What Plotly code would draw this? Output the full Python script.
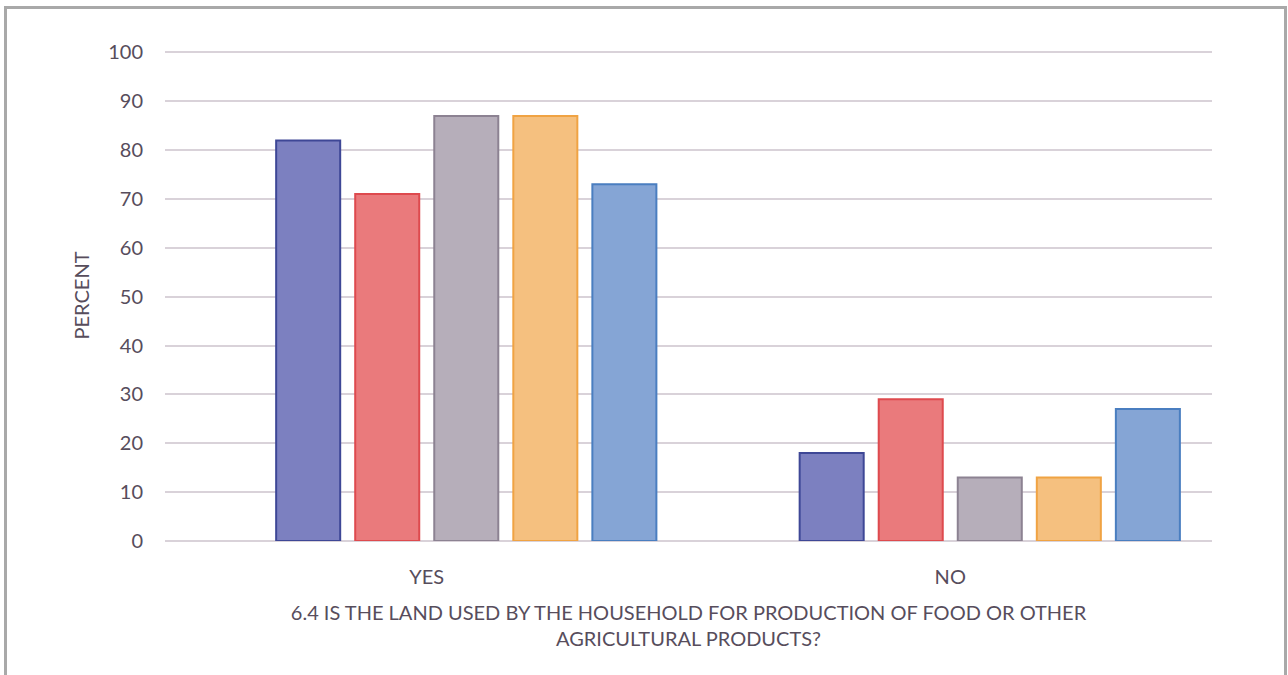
import plotly.graph_objects as go

# Survey answers to question 6.4, in percent of households
categories = ["YES", "NO"]
series_names = ["Group A", "Group B", "Group C", "Group D", "Group E"]
series_values = [
    [82, 18],
    [71, 29],
    [87, 13],
    [87, 13],
    [73, 27],
]
fill_colors = ["#7C80C0", "#EA7A7C", "#B6AEBA", "#F5C07F", "#85A5D5"]
line_colors = ["#3E4796", "#DE4A4E", "#8C8292", "#F0A343", "#4A7EC0"]

y_ticks = list(range(0, 101, 10))
x_title = ("6.4 IS THE LAND USED BY THE HOUSEHOLD FOR PRODUCTION OF FOOD OR OTHER"
           "<br>AGRICULTURAL PRODUCTS?")

text_color = "#574D5C"
font_family = "Lato, 'Open Sans', sans-serif"

fig = go.Figure()

# An empty leading series keeps the bar slots in the workbook's layout
fig.add_trace(go.Bar(x=categories, y=[None, None], name="", showlegend=False,
                     hoverinfo="skip"))

for name, vals, fc, lc in zip(series_names, series_values, fill_colors, line_colors):
    fig.add_trace(go.Bar(
        x=categories, y=vals, name=name,
        marker=dict(color=fc, line=dict(color=lc, width=2)),
    ))

L, R, T, B = 165, 76, 50, 134
W, H = 1288, 675
pw, ph = W - L - R, H - T - B
y_top = 100.5

def px_to_paper_x(px):
    return (px - L) / pw

def px_to_paper_y(py):
    return (H - B - py) / ph

fig.update_layout(
    width=W, height=H,
    margin=dict(l=L, r=R, t=T, b=B),
    paper_bgcolor="white",
    plot_bgcolor="white",
    barmode="group",
    bargap=0.094,
    bargroupgap=0.19,
    showlegend=False,
    font=dict(family=font_family, color=text_color, size=20),
    xaxis=dict(
        showgrid=False,
        showline=False,
        ticks="",
        ticklabelstandoff=22,
        tickfont=dict(size=20, color=text_color),
        title=dict(text=x_title, font=dict(size=20, color=text_color), standoff=18),
    ),
    yaxis=dict(
        range=[0, y_top],
        tickvals=y_ticks,
        showgrid=True,
        gridcolor="#D9D2D9",
        gridwidth=2,
        zeroline=True,
        zerolinecolor="#D9D2D9",
        zerolinewidth=2,
        ticks="",
        ticklabelstandoff=21,
        tickfont=dict(size=20, color=text_color),
        title=dict(text="PERCENT", font=dict(size=20, color=text_color), standoff=13),
    ),
    shapes=[dict(
        type="rect", xref="paper", yref="paper",
        x0=px_to_paper_x(5.5), x1=px_to_paper_x(1285.5),
        y0=px_to_paper_y(690), y1=px_to_paper_y(7.5),
        line=dict(color="#A9A9A9", width=3), fillcolor="rgba(0,0,0,0)",
        layer="below",
    )],
)

fig.write_html("out.html")
